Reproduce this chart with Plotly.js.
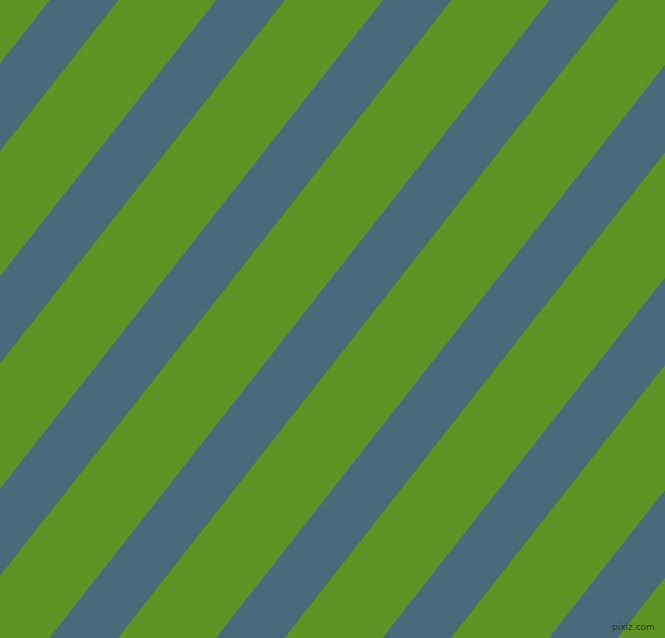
<!DOCTYPE html>
<html>
<head>
<meta charset="utf-8">
<script src="https://cdn.plot.ly/plotly-3.0.1.min.js"></script>
<style>html,body{margin:0;padding:0;background:#5d9424;}#chart{width:665px;height:638px;}</style>
</head>
<body>
<div id="chart"></div>
<script>
// Blue stripe edges measured along the top edge (x at y = 0), in pixels
var stripeStarts = [-116.5, 50, 216.5, 383, 549.5, 716, 882.5, 1049];
var stripeEnds   = [-48, 118.5, 285, 451.5, 618, 784.5, 951, 1117.5];
// Horizontal drift of each stripe from top to bottom of the picture
var stripeDrift = 500;
var canvasW = 665, canvasH = 638;
var greenColor = '#5d9424';
var blueColor = '#486a7b';
var watermark = 'pixiz.com';

var traces = stripeStarts.map(function (s, i) {
  var e = stripeEnds[i];
  return {
    type: 'scatter', mode: 'lines',
    x: [s, e, e - stripeDrift, s - stripeDrift, s],
    y: [0, 0, canvasH, canvasH, 0],
    fill: 'toself', fillcolor: blueColor,
    line: {width: 0, color: blueColor},
    hoverinfo: 'skip', showlegend: false
  };
});

var layout = {
  width: canvasW, height: canvasH,
  margin: {l: 0, r: 0, t: 0, b: 0},
  paper_bgcolor: greenColor, plot_bgcolor: greenColor,
  xaxis: {range: [0, canvasW], visible: false, fixedrange: true},
  yaxis: {range: [canvasH, 0], visible: false, fixedrange: true},
  showlegend: false,
  annotations: [{
    text: watermark, xref: 'paper', yref: 'paper', x: 0.988, y: 0.006,
    xanchor: 'right', yanchor: 'bottom', showarrow: false,
    font: {family: 'DejaVu Sans', size: 9, color: '#2b3d33'}
  }]
};

Plotly.newPlot('chart', traces, layout, {displayModeBar: false, staticPlot: true});
</script>
</body>
</html>
